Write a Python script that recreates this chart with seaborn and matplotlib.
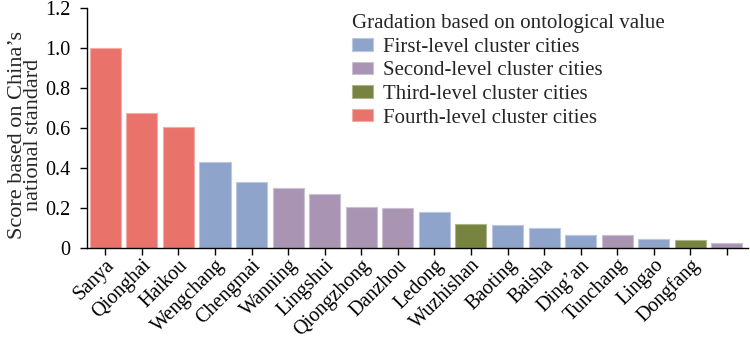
import matplotlib
matplotlib.use("Agg")
import matplotlib.pyplot as plt
import matplotlib.colors as mcolors
import seaborn as sns
import pandas as pd
import numpy as np

cities = ["Sanya", "Qionghai", "Haikou", "Wengchang", "Chengmai", "Wanning", "Lingshui",
          "Qiongzhong", "Danzhou", "Ledong", "Wuzhishan", "Baoting", "Baisha", "Ding\u2019an",
          "Tunchang", "Lingao", "Dongfang", "Other"]
tick_labels = cities[:-1] + [""]
scores = [1.0, 0.678, 0.605, 0.43, 0.332, 0.303, 0.27, 0.206, 0.2, 0.183, 0.121, 0.114,
          0.102, 0.066, 0.066, 0.044, 0.04, 0.026]
levels = ["Fourth", "Fourth", "Fourth", "First", "First", "Second", "Second", "Second",
          "Second", "First", "Third", "First", "First", "First", "Second", "First", "Third",
          "Second"]
level_names = {"First": "First-level cluster cities", "Second": "Second-level cluster cities",
               "Third": "Third-level cluster cities", "Fourth": "Fourth-level cluster cities"}
palette = {"First-level cluster cities": "#8FA4CB", "Second-level cluster cities": "#A994B4",
           "Third-level cluster cities": "#76843F", "Fourth-level cluster cities": "#E9736B"}

df = pd.DataFrame({"city": cities, "score": scores,
                   "level": [level_names[l] for l in levels]})

sns.set_style("ticks")
plt.rcParams["font.family"] = ["Liberation Serif", "DejaVu Serif"]

fig = plt.figure(figsize=(7.5, 3.4), dpi=100)
ax = fig.add_axes([0.116, 0.27, 0.881, 0.706])

sns.barplot(data=df, x="city", y="score", hue="level", order=cities,
            hue_order=list(palette.keys()), palette=palette, dodge=False,
            width=0.85, ax=ax, saturation=1)

for p in ax.patches:
    fc = p.get_facecolor()
    light = tuple(np.array(mcolors.to_rgb(fc)) * 0.6 + 0.4)
    p.set_edgecolor(light)
    p.set_linewidth(0.8)

ax.set_xlim(-0.5, 17.57)
ax.set_ylim(0, 1.2)
ax.set_yticks([0, 0.2, 0.4, 0.6, 0.8, 1.0, 1.2])
ax.set_yticklabels(["0", "0.2", "0.4", "0.6", "0.8", "1.0", "1.2"], fontsize=14.5)
ax.set_xticks(range(len(cities)))
ax.set_xticklabels(tick_labels, rotation=45, ha="right", rotation_mode="anchor", fontsize=14.5)
ax.set_xlabel("")
ax.set_ylabel("Score based on China\u2019s\nnational standard", fontsize=16, linespacing=0.8)
ax.yaxis.set_label_coords(-0.066, 0.47)
ax.tick_params(axis="y", direction="out", length=5, width=1, colors="black", pad=7)
ax.tick_params(axis="x", direction="out", length=5, width=1, colors="black", pad=0.5)
for s in ["top", "right"]:
    ax.spines[s].set_visible(False)
for s in ["left", "bottom"]:
    ax.spines[s].set_color("black")
    ax.spines[s].set_linewidth(1)

leg = ax.legend(title="Gradation based on ontological value", loc="upper left",
                bbox_to_anchor=(0.373, 1.053), frameon=False, fontsize=15, title_fontsize=15,
                handlelength=1.0, handleheight=0.55, labelspacing=0.22, handletextpad=0.5)
leg._legend_box.align = "left"

fig.savefig("out.png", dpi=100)
